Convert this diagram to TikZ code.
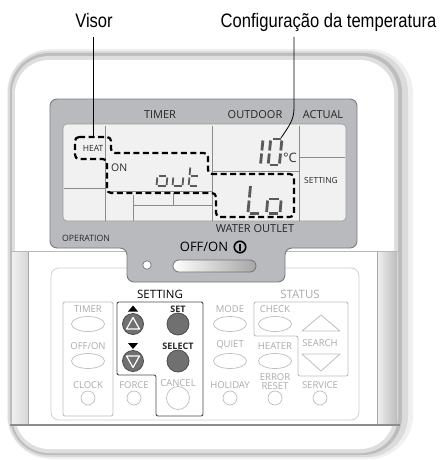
\documentclass[tikz,border=0pt]{standalone}
\usepackage{fontspec}
\setmainfont{Open Sans}
\newfontfamily\narrowfont[FakeStretch=0.85]{Liberation Sans}
\usetikzlibrary{shapes.geometric}
\definecolor{lcdgray}{RGB}{184,186,189}
\definecolor{lcdedge}{RGB}{120,122,125}
\definecolor{screenc}{RGB}{241,241,241}
\definecolor{segc}{RGB}{90,90,90}
\definecolor{btnline}{RGB}{190,190,190}
\definecolor{btntext}{RGB}{170,170,170}
\definecolor{darkbtn}{RGB}{112,112,112}
\tikzset{
  callout/.style={font=\narrowfont\fontsize{19.5}{19.5}\selectfont, inner sep=0, anchor=base},
  lcdlbl/.style={font=\fontsize{11}{11}\selectfont, inner sep=0, text=black!85},
  btnlbl/.style={font=\fontsize{9.5}{9.5}\selectfont, inner sep=0, text=btntext},
  darklbl/.style={font=\fontsize{9}{9}\selectfont\bfseries, inner sep=0, text=black!85},
  ovalbtn/.style={ellipse, draw=btnline, line width=0.7, minimum width=33, minimum height=15, inner sep=0},
  smallbtn/.style={circle, draw=btnline, line width=0.7, minimum size=14, inner sep=0},
  darkbtnst/.style={circle, draw=black!70, fill=darkbtn, line width=0.8, minimum size=21, inner sep=0},
  seg/.style={line width=2.8, segc},
  thinseg/.style={line width=1.8, segc},
  scrline/.style={line width=0.8, black!45},
  dashbox/.style={line width=2.2, black, dash pattern=on 6pt off 3.5pt, rounded corners=4},
  leader/.style={line width=0.8, black}
}
\begin{document}
\begin{tikzpicture}[x=1pt,y=-1pt]
\useasboundingbox (0,0) rectangle (444,460);
\fill[white] (0,0) rectangle (444,460);
% ---- body with shadow rim
\fill[black!6, rounded corners=44] (7,49) rectangle (413,459);
\fill[black!14, rounded corners=41] (8,51) rectangle (408,457);
\fill[black!26, rounded corners=39] (10,53) rectangle (402,455);
\fill[black!13, rounded corners=37] (12,56) rectangle (398,453);
\fill[white, rounded corners=34] (15,60) rectangle (394,449);
% ---- lower section
\shade[left color=black!6, right color=black!16] (12,252) rectangle (28,425);
\shade[left color=black!6, right color=black!26] (377,252) rectangle (397,425);
\draw[black!35, line width=0.8] (28,252) -- (28,425);
\draw[black!35, line width=0.8] (377,252) -- (377,425);
\draw[black!28, line width=0.8] (11,251) -- (399,251);
\draw[black!45, line width=1.6] (10,425) -- (400,425);
% ---- button panel outline
\draw[black!20, line width=0.7, rounded corners=8] (51,268) rectangle (359,420);
% ---- LCD panel
\filldraw[fill=lcdgray, draw=lcdedge, line width=0.9, rounded corners=7]
  (50,99) -- (357,99) -- (357,248) -- (285,248) -- (285,282) -- (127,282) -- (127,248) -- (50,248) -- cycle;
\filldraw[fill=screenc, draw=black!40, line width=0.6, rounded corners=4] (63,124) rectangle (346,221);
% screen lines
\draw[scrline] (105,126) -- (105,221);
\draw[scrline] (64,188) -- (105,188);
\draw[scrline] (212,126) -- (212,221);
\draw[scrline] (212,171) -- (299,171);
\draw[scrline] (299,126) -- (299,221);
\draw[scrline] (299,157) -- (345,157);
\draw[scrline] (107,191) -- (212,191);
\draw[scrline] (133,205) -- (212,205);
\draw[scrline] (133,195) -- (133,221);
\draw[scrline] (173,193) -- (173,205);
% labels on LCD
\node[lcdlbl] (timer) at (160,115) {TIMER};
\node[lcdlbl] (outdoor) at (255,115) {OUTDOOR};
\node[lcdlbl] (actual) at (323,115) {ACTUAL};
\node[lcdlbl, font=\fontsize{8.5}{8.5}\selectfont] (heat) at (93,148) {HEAT};
\node[lcdlbl, font=\fontsize{10.5}{10.5}\selectfont, anchor=west] (on) at (111,168) {ON};
\node[lcdlbl, font=\fontsize{8.4}{8.4}\selectfont] (setting) at (321,180) {SETTING};
\node[lcdlbl, font=\fontsize{13}{13}\selectfont, text=black!80] (degc) at (290,158) {°C};
\node[lcdlbl, font=\fontsize{8.7}{8.7}\selectfont, anchor=west] (operation) at (62,238) {OPERATION};
\node[lcdlbl] (water) at (255,229) {WATER OUTLET};
\node[lcdlbl, font=\fontsize{13}{13}\selectfont, text=black] (offon) at (204,247) {OFF/ON};
\node[circle, draw=black, line width=1.6, minimum size=11.5, inner sep=0] (pwr) at (240,247) {};
\draw[black, line width=1.6] (240,243.5) -- (240,250.5);
% segments: 10
\draw[seg] (262.9,140.5) -- (261.9,150.5);
\draw[seg] (261.6,153.5) -- (260.6,163.5);
\draw[seg] (272.5,139) -- (280.5,139);
\draw[seg] (281.8,140.5) -- (280.8,150.5);
\draw[seg] (280.5,153.5) -- (279.5,163.5);
\draw[seg] (269.5,165) -- (277.5,165);
\draw[seg] (268.3,163.5) -- (269.3,153.5);
\draw[seg] (269.6,150.5) -- (270.6,140.5);
% segments: Lo
\draw[seg] (250.5,186) -- (249.4,197.5);
\draw[seg] (249.1,200.5) -- (248,212);
\draw[seg] (250,213.5) -- (258.5,213.5);
\draw[seg] (269,199) -- (278.5,199);
\draw[seg] (267.6,200.5) -- (266.6,212);
\draw[seg] (281.1,200.5) -- (280.1,212);
\draw[seg] (268.5,213.5) -- (278,213.5);
% segments: out
\draw[thinseg] (158.5,176) -- (166,176);
\draw[thinseg] (157.3,177.5) -- (156.6,185);
\draw[thinseg] (167.3,177.5) -- (166.6,185);
\draw[thinseg] (157.6,186.3) -- (165.6,186.3);
\draw[thinseg] (173.3,177.5) -- (172.6,185);
\draw[thinseg] (183.3,177.5) -- (182.6,185);
\draw[thinseg] (173.6,186.3) -- (181.6,186.3);
\draw[thinseg] (190.3,167.5) -- (189.6,175);
\draw[thinseg] (189.4,177.5) -- (188.7,185);
\draw[thinseg] (191,176) -- (198,176);
\draw[thinseg] (189.8,186.3) -- (197,186.3);
% dashed outline
\draw[dashbox] (75,137) -- (111,137) -- (111,153) -- (208,153) -- (208,174) -- (294,174) -- (294,217) -- (216,217) -- (216,193) -- (107,193) -- (107,159) -- (75,159) -- cycle;
% LED and pill button
\node[circle, draw=black!50, fill=white, line width=0.8, minimum size=8.5, inner sep=0] (led) at (147,265) {};
\shade[left color=white, right color=black!35, rounded corners=6] (173,260) rectangle (256,272);
\draw[black!55, line width=0.8, rounded corners=6] (173,260) rectangle (256,272);
% ---- callouts
\node[callout] (visor) at (94,27.5) {Visor};
\node[callout] (config) at (328.5,27.5) {Configuração da temperatura};
\coordinate (vtop) at (93,37);
\coordinate (heattop) at (93,137);
\coordinate (ctop) at (294,37);
\coordinate (ten) at (281,138);
\draw[leader] (vtop) -- (heattop);
\draw[leader] (ctop) -- (294,108) .. controls (294,120) and (289,126) .. (ten);
% ---- group boxes
\draw[black!70, line width=0.9, rounded corners=2] (117,302) -- (203,302) -- (203,416) -- (156,416) -- (156,375) -- (117,375) -- cycle;
\draw[btnline, line width=0.9, rounded corners=2] (63,302) rectangle (113,416);
\draw[btnline, line width=0.9, rounded corners=2] (254,302) -- (348,302) -- (348,376) -- (298,376) -- (298,336) -- (254,336) -- cycle;
\node[lcdlbl, font=\fontsize{11.5}{11.5}\selectfont, text=black] (settinggrp) at (160,294) {SETTING};
\node[btnlbl, font=\fontsize{11.5}{11.5}\selectfont] (status) at (300,294) {STATUS};
% column 1
\node[btnlbl] (ltimer) at (88,309) {TIMER};
\node[ovalbtn] (btimer) at (88,324) {};
\node[btnlbl] (loffon) at (88,346) {OFF/ON};
\node[ovalbtn] (boffon) at (88,361) {};
\node[btnlbl] (lclock) at (88,385) {CLOCK};
\node[smallbtn] (bclock) at (88,398) {};
% column 2
\node[btnlbl] (lforce) at (134,385) {FORCE};
\node[smallbtn] (bforce) at (134,398) {};
\fill[black] (128,311.5) -- (138,311.5) -- (133,305.5) -- cycle;
\node[darkbtnst] (bup) at (133,324) {};
\draw[white, line width=1.2, line join=round] (126.5,329) -- (139.5,329) -- (133,317.5) -- cycle;
\fill[black] (128,343) -- (138,343) -- (133,349) -- cycle;
\node[darkbtnst] (bdown) at (133,361) {};
\draw[white, line width=1.2, line join=round] (126.5,356) -- (139.5,356) -- (133,367.5) -- cycle;
% column 3
\node[darklbl] (lset) at (178,309) {SET};
\node[darkbtnst, minimum size=22] (bset) at (178,324) {};
\node[darklbl] (lselect) at (178,346) {SELECT};
\node[darkbtnst, minimum size=22] (bselect) at (178,361) {};
\node[btnlbl] (lcancel) at (178,383) {CANCEL};
\node[smallbtn, minimum size=23] (bcancel) at (178,398) {};
% column 4
\node[btnlbl] (lmode) at (230,309) {MODE};
\node[ovalbtn] (bmode) at (230,324) {};
\node[btnlbl] (lquiet) at (230,345) {QUIET};
\node[ovalbtn] (bquiet) at (230,361) {};
\node[btnlbl] (lholiday) at (230,385) {HOLIDAY};
\node[smallbtn] (bholiday) at (230,398) {};
% column 5
\node[btnlbl] (lcheck) at (275,309) {CHECK};
\node[ovalbtn] (bcheck) at (275,324) {};
\node[btnlbl] (lheater) at (275,346) {HEATER};
\node[ovalbtn] (bheater) at (275,361) {};
\node[btnlbl] (lerror) at (275,377) {ERROR};
\node[btnlbl] (lreset) at (275,386) {RESET};
\node[smallbtn] (breset) at (275,398) {};
% column 6
\draw[btnline, line width=0.8, line join=round] (302,331) -- (321,315) -- (340,331) -- cycle;
\node[btnlbl] (lsearch) at (320,343) {SEARCH};
\draw[btnline, line width=0.8, line join=round] (302,354) -- (340,354) -- (321,371) -- cycle;
\node[btnlbl] (lservice) at (320,385) {SERVICE};
\node[smallbtn] (bservice) at (320,398) {};
\end{tikzpicture}
\end{document}
